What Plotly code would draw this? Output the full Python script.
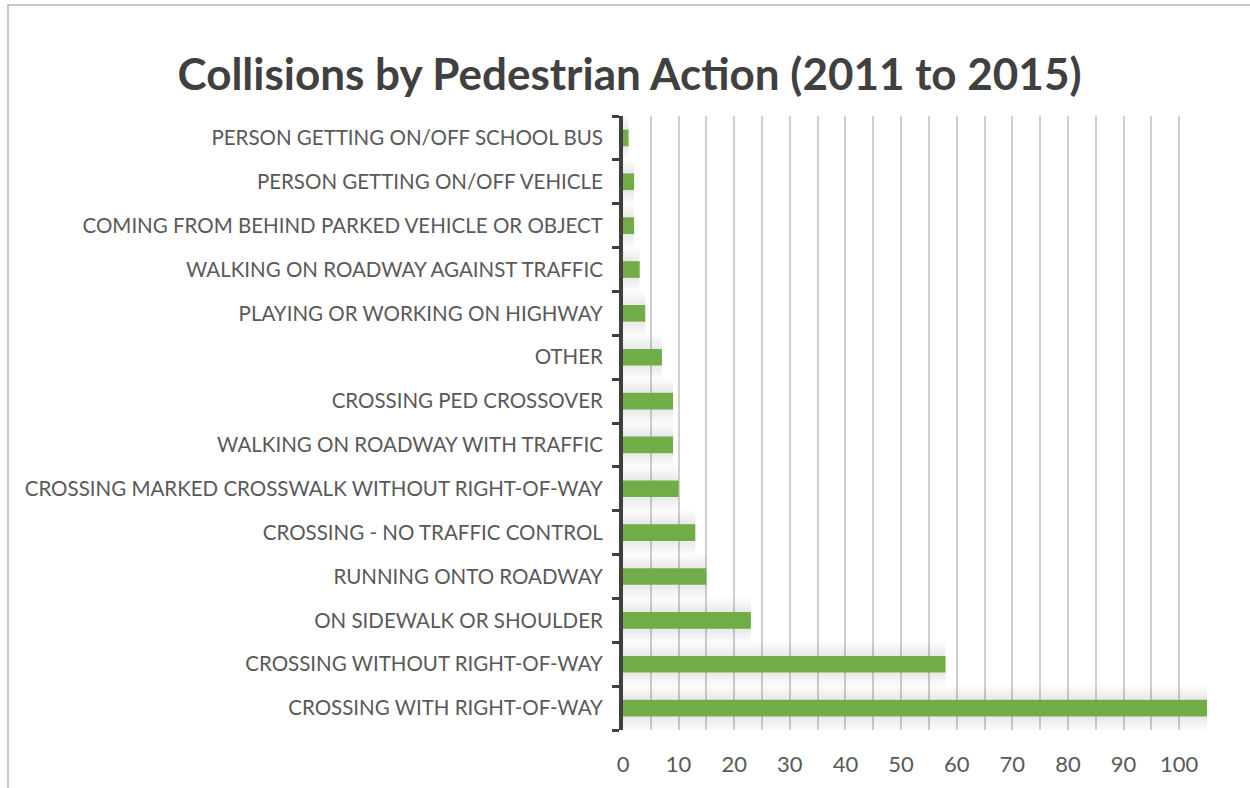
import plotly.graph_objects as go

# Pedestrian actions, listed bottom to top as they appear on the y axis
actions = [
    "CROSSING WITH RIGHT-OF-WAY",
    "CROSSING WITHOUT RIGHT-OF-WAY",
    "ON SIDEWALK OR SHOULDER",
    "RUNNING ONTO ROADWAY",
    "CROSSING - NO TRAFFIC CONTROL",
    "CROSSING MARKED CROSSWALK WITHOUT RIGHT-OF-WAY",
    "WALKING ON ROADWAY WITH TRAFFIC",
    "CROSSING PED CROSSOVER",
    "OTHER",
    "PLAYING OR WORKING ON HIGHWAY",
    "WALKING ON ROADWAY AGAINST TRAFFIC",
    "COMING FROM BEHIND PARKED VEHICLE OR OBJECT",
    "PERSON GETTING ON/OFF VEHICLE",
    "PERSON GETTING ON/OFF SCHOOL BUS",
]
collisions = [105, 58, 23, 15, 13, 10, 9, 9, 7, 4, 3, 2, 2, 1]

x_ticks = list(range(0, 101, 10))

FONT = "Lato, 'Open Sans', sans-serif"
DARK = "#404040"
GREY_TEXT = "#595959"
GRID = "#d0d0d0"

fig = go.Figure()

# soft drop shadow behind the bars: a few faint, widening grey layers
for w in (1.0, 0.85, 0.7, 0.55):
    fig.add_trace(go.Bar(
        x=collisions,
        y=actions,
        orientation="h",
        marker=dict(color="rgba(0,0,0,0.018)", line=dict(width=0)),
        width=w,
        hoverinfo="skip",
    ))

fig.add_trace(go.Bar(
    x=collisions,
    y=actions,
    orientation="h",
    marker=dict(color="#70ad47", line=dict(width=0)),
    width=0.38,
    hoverinfo="x+y",
))

fig.update_layout(
    width=1250,
    height=788,
    barmode="overlay",
    margin=dict(l=623, r=43, t=116, b=58),
    paper_bgcolor="white",
    plot_bgcolor="white",
    showlegend=False,
    font=dict(family=FONT, color=GREY_TEXT),
    title=dict(
        text="<b>Collisions by Pedestrian Action (2011 to 2015)</b>",
        x=0.5036, xref="container", xanchor="center",
        y=0.905, yref="container", yanchor="middle",
        font=dict(family=FONT, size=44, color=DARK),
    ),
    xaxis=dict(
        range=[0, 105],
        tickmode="array",
        tickvals=x_ticks,
        ticktext=[str(v) for v in x_ticks],
        showgrid=True,
        gridcolor=GRID,
        gridwidth=2,
        minor=dict(dtick=5, tick0=0, showgrid=True, gridcolor=GRID, gridwidth=2),
        zeroline=False,
        showline=False,
        ticks="",
        ticklabelstandoff=19,
        tickfont=dict(family=FONT, size=22, color=GREY_TEXT),
        fixedrange=True,
    ),
    yaxis=dict(
        categoryorder="array",
        categoryarray=actions,
        showgrid=False,
        showline=True,
        linecolor=DARK,
        linewidth=4,
        ticks="outside",
        tickson="boundaries",
        ticklen=7,
        tickwidth=3,
        tickcolor=DARK,
        ticklabelstandoff=12,
        tickfont=dict(family=FONT, size=20.5, color=GREY_TEXT),
        fixedrange=True,
    ),
    shapes=[
        # chart frame running off the right and bottom edges
        dict(type="rect", xref="paper", yref="paper",
             x0=-1.053, x1=2.0, y0=-1.0, y1=1.1808,
             line=dict(color="#c8c8c8", width=2), fillcolor="rgba(0,0,0,0)",
             layer="below"),
    ],
)

fig.write_html("out.html")
